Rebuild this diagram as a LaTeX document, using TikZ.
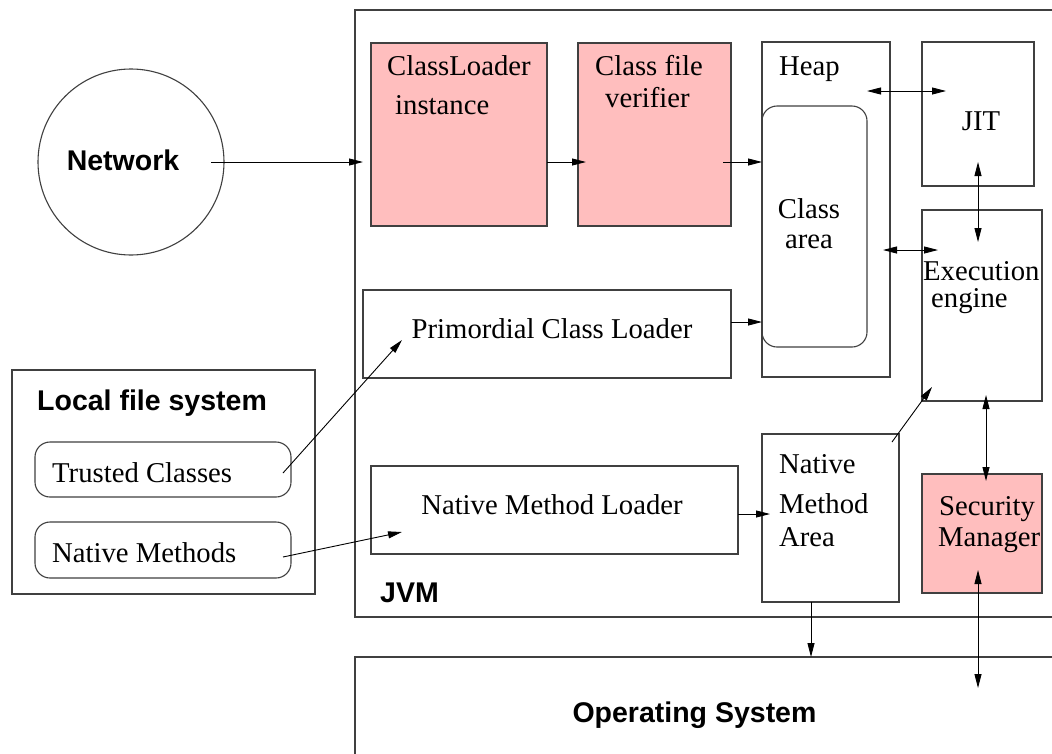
\documentclass[tikz,border=0pt]{standalone}
\usepackage{fontspec}
\setmainfont{Liberation Serif}
\setsansfont{Liberation Sans}
\usetikzlibrary{calc,arrows.meta}
\definecolor{pinkfill}{RGB}{255,190,190}
\tikzset{
  box/.style={draw=black!75, line width=1.1pt, inner sep=0pt, outer sep=0pt},
  pinkbox/.style={box, fill=pinkfill},
  rbox/.style={box, rounded corners=15pt},
  lbl/.style={inner sep=0pt, font=\fontsize{28.7}{34}\selectfont},
  blbl/.style={inner sep=0pt, font=\fontsize{28.5}{34}\selectfont\sffamily\bfseries},
  arr/.style={line width=0.9pt, -{Triangle[length=14pt,width=7pt]}},
  darr/.style={line width=0.9pt, {Triangle[length=14pt,width=7pt]}-{Triangle[length=14pt,width=7pt]}}
}
\begin{document}
\begin{tikzpicture}[x=1pt,y=-1pt]
\useasboundingbox (0,0) rectangle (1052,753);
\clip (0,0) rectangle (1052,753);
\fill[white] (0,0) rectangle (1052,753);
% containers
\node[box, minimum width=715pt, minimum height=607pt] (jvm) at (712.5,313.5) {};
\node[box, minimum width=715pt, minimum height=113pt] (os) at (712.5,713.5) {};
\node[box, circle, minimum size=186pt] (net) at (131,162) {};
\node[box, minimum width=303pt, minimum height=224pt] (lfs) at (163.5,482) {};
% boxes
\node[pinkbox, minimum width=176pt, minimum height=183pt] (cl) at (459,134.5) {};
\node[pinkbox, minimum width=153pt, minimum height=183pt] (ver) at (654.5,134.5) {};
\node[box, minimum width=128pt, minimum height=335pt] (heap) at (826,209.5) {};
\node[rbox, minimum width=105pt, minimum height=241pt] (carea) at (814.5,226.5) {};
\node[box, minimum width=112pt, minimum height=144pt] (jit) at (978,114) {};
\node[box, minimum width=120pt, minimum height=191pt] (exec) at (982,305.5) {};
\node[pinkbox, minimum width=120pt, minimum height=119pt] (sec) at (982,533.5) {};
\node[box, minimum width=137pt, minimum height=168pt] (nma) at (830.5,518) {};
\node[box, minimum width=368pt, minimum height=88pt] (prim) at (547,334) {};
\node[box, minimum width=367pt, minimum height=88pt] (nml) at (554.5,510) {};
\node[rbox, minimum width=256pt, minimum height=55pt] (trusted) at (163,469.5) {};
\node[rbox, minimum width=256pt, minimum height=56pt] (nm) at (163,550) {};
% labels
\node[blbl, anchor=base] (tnet) at (123,170) {Network};
\node[blbl, anchor=base west] (tlfs) at (37,410) {Local file system};
\node[blbl, anchor=base west] (tjvm) at (380,602) {JVM};
\node[blbl, anchor=base] (tos) at (694.5,722) {Operating System};
\node[lbl, anchor=base west] (tcl1) at (387,75) {ClassLoader};
\node[lbl, anchor=base west] (tcl2) at (395,114) {instance};
\node[lbl, anchor=base west] (tver1) at (595,75) {Class file};
\node[lbl, anchor=base west] (tver2) at (605,107) {verifier};
\node[lbl, anchor=base west] (theap) at (779,75) {Heap};
\node[lbl, anchor=base] (tjit) at (981,130) {JIT};
\node[lbl, anchor=base] (tca1) at (809,218) {Class};
\node[lbl, anchor=base] (tca2) at (809,248) {area};
\node[lbl, anchor=base west] (tex1) at (923,280) {Execution};
\node[lbl, anchor=base west] (tex2) at (931,307) {engine};
\node[lbl, anchor=base west] (tnma1) at (779,473) {Native};
\node[lbl, anchor=base west] (tnma2) at (779,513) {Method};
\node[lbl, anchor=base west] (tnma3) at (779,546) {Area};
\node[lbl, anchor=base west] (tsec1) at (939,515) {Security};
\node[lbl, anchor=base west] (tsec2) at (938,546) {Manager};
\node[lbl, anchor=base] (tprim) at (552,338) {Primordial Class Loader};
\node[lbl, anchor=base] (tnml) at (552,514) {Native Method Loader};
\node[lbl, anchor=base west] (ttr) at (52,482) {Trusted Classes};
\node[lbl, anchor=base west] (tnm) at (52,562) {Native Methods};
% connectors
\draw[arr] ($(net.east)+(-13,0)$) -- ($(cl.west |- net.east)+(-8,0)$);
\draw[arr] (cl.east |- net.east) -- ($(ver.west |- net.east)+(8,0)$);
\draw[arr] ($(ver.east |- net.east)+(-8,0)$) -- (heap.west |- net.east);
\draw[arr] ($(prim.east)+(0,-12)$) -- ($(carea.west |- prim.east)+(0,-12)$);
\draw[arr] ($(nml.east)+(0,4)$) -- ($(nma.west |- nml.east)+(8,4)$);
\draw[darr] ($(carea.east |- jit.north)+(0,49)$) -- ($(jit.north west)+(24,49)$);
\draw[darr] ($(jit.south)+(0,-24)$) -- ($(jit.south |- exec.north)+(0,32)$);
\draw[darr] ($(heap.east |- exec.north)+(-7,40)$) -- ($(exec.north west)+(16,40)$);
\draw[arr] ($(nma.north east)+(-7,8)$) -- ($(exec.south west)+(10,-14)$);
\draw[darr] ($(exec.south)+(4,-6)$) -- ($(sec.north)+(4,7)$);
\draw[darr] ($(sec.south)+(-4,-23)$) -- ($(sec.south |- os.north)+(-4,31)$);
\draw[arr] ($(nma.south)+(-19.5,0)$) -- ($(nma.south |- os.north)+(-19.5,0)$);
\draw[arr] ($(trusted.east)+(-8,3.5)$) -- ($(prim.west)+(39,6)$);
\draw[arr] ($(nm.east)+(-8,7)$) -- ($(nml.west)+(31,22)$);
\end{tikzpicture}
\end{document}
